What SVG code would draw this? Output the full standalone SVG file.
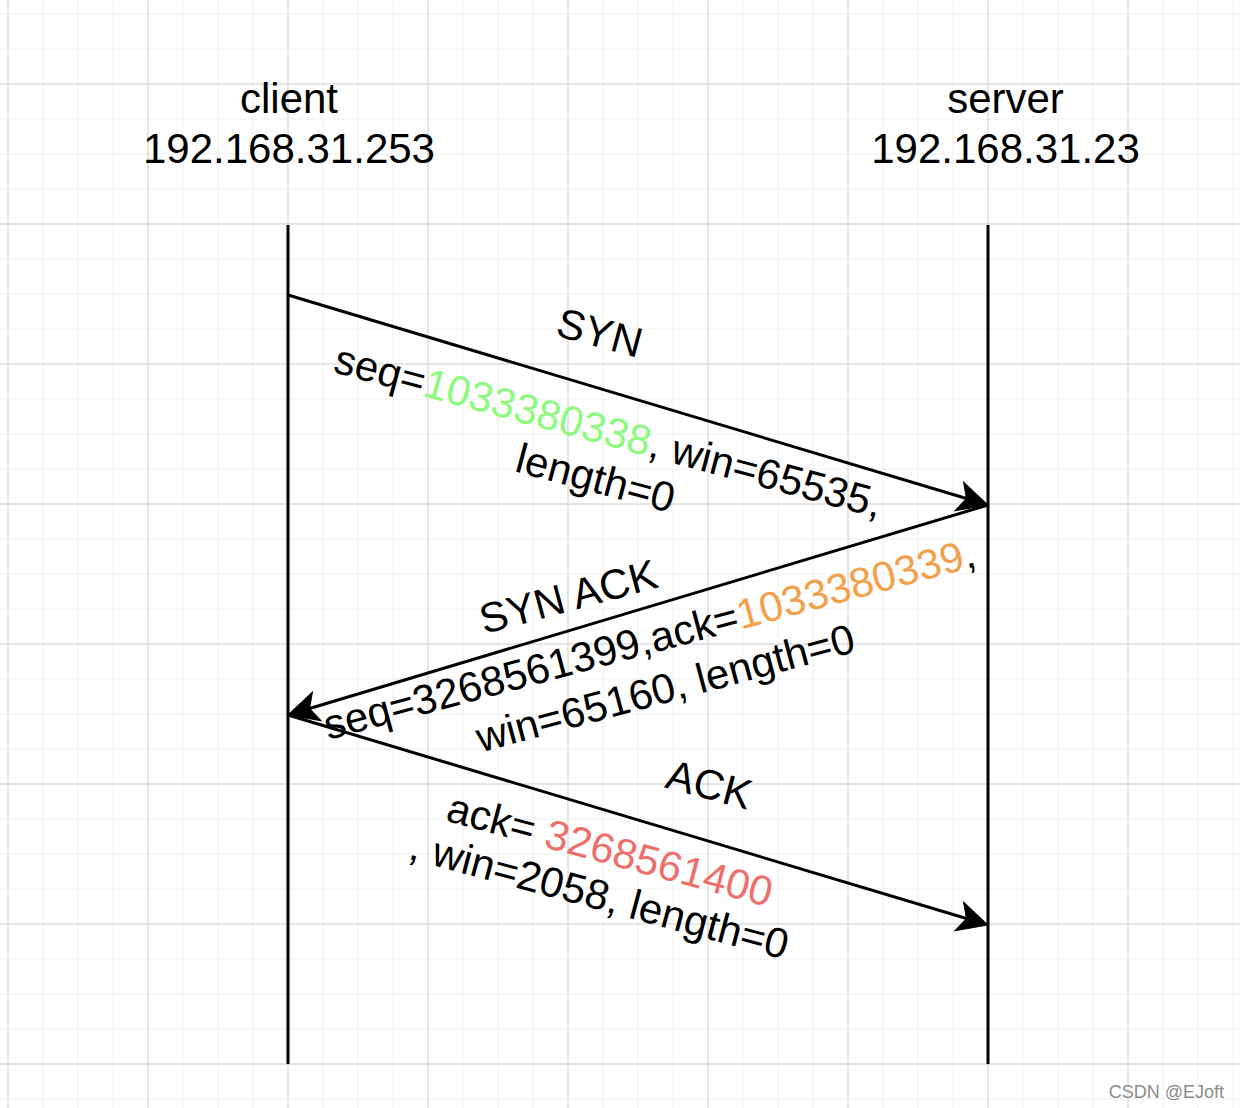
<svg xmlns="http://www.w3.org/2000/svg" width="1240" height="1108" viewBox="0 0 1240 1108">
  <defs>
    <pattern id="gridMinor" patternUnits="userSpaceOnUse" x="7.5" y="13.5" width="35" height="35">
      <path d="M0.5 0 V35 M0 0.5 H35" fill="none" stroke="#efefef" stroke-width="1"/>
    </pattern>
    <pattern id="gridMajor" patternUnits="userSpaceOnUse" x="7.5" y="83.5" width="140" height="140">
      <path d="M0.5 0 V140 M0 0.5 H140" fill="none" stroke="#d3d3d3" stroke-width="1"/>
    </pattern>
    <marker id="arrow" markerUnits="userSpaceOnUse" viewBox="0 0 31 31" markerWidth="31" markerHeight="31" refX="8" refY="15.5" orient="auto" overflow="visible">
      <path d="M30.5 15.5 L0.5 0.5 L8 15.5 L0.5 30.5 Z" fill="#000" stroke="#000" stroke-width="1" stroke-linejoin="miter"/>
    </marker>
    <style>
      .lbl { font-family: "Liberation Sans", Arial, Helvetica, sans-serif; font-size: 42px; fill: #000; }
      .mid { text-anchor: middle; }
      .life { stroke: #000; stroke-width: 3; fill: none; }
      .msg { stroke: #000; stroke-width: 3; fill: none; marker-end: url(#arrow); }
      .green { fill: #8CFA7C; }
      .orange { fill: #F2A04A; }
      .red { fill: #EE6F6A; }
      .wm { font-family: "Liberation Sans", Arial, sans-serif; font-size: 18px; fill: #8c8c8c; }
    </style>
  </defs>

  <rect x="0" y="0" width="1240" height="1108" fill="#ffffff"/>
  <rect x="0" y="0" width="1240" height="1108" fill="url(#gridMinor)"/>
  <rect x="0" y="0" width="1240" height="1108" fill="url(#gridMajor)"/>

  <g id="client">
    <text class="lbl mid" x="289" y="112.5">client</text>
    <text class="lbl mid" x="289" y="163">192.168.31.253</text>
    <line class="life" x1="288" y1="225" x2="288" y2="1064"/>
  </g>

  <g id="server">
    <text class="lbl mid" x="1005.5" y="112.5">server</text>
    <text class="lbl mid" x="1005.5" y="163">192.168.31.23</text>
    <line class="life" x1="988" y1="225" x2="988" y2="1064"/>
  </g>

  <g id="connectors">
    <line id="syn" class="msg" x1="288" y1="295" x2="966.45" y2="498.54"/>
    <line id="synack" class="msg" x1="988" y1="505" x2="309.55" y2="708.54"/>
    <line id="ack" class="msg" x1="288" y1="715" x2="966.45" y2="918.54"/>
  </g>

  <g id="label-syn">
    <text class="lbl mid" transform="translate(596,346.6) rotate(15)">SYN</text>
    <text class="lbl mid" transform="translate(605,445) rotate(15)">seq=<tspan class="green">1033380338</tspan>, win=65535,</text>
    <text class="lbl mid" transform="translate(592,492) rotate(15)">length=0</text>
  </g>

  <g id="label-synack">
    <text class="lbl mid" transform="translate(572,610.6) rotate(-15)">SYN ACK</text>
    <text class="lbl mid" transform="translate(653,653) rotate(-15)">seq=3268561399,ack=<tspan class="orange">1033380339</tspan>,</text>
    <text class="lbl mid" transform="translate(669,702) rotate(-15)">win=65160, length=0</text>
  </g>

  <g id="label-ack">
    <text class="lbl mid" transform="translate(705.5,798.5) rotate(15)">ACK</text>
    <text class="lbl mid" transform="translate(606.3,863.8) rotate(15)">ack= <tspan class="red">3268561400</tspan></text>
    <text class="lbl mid" transform="translate(595.7,909) rotate(15)">, win=2058, length=0</text>
  </g>

  <text class="wm" x="1224" y="1097.5" text-anchor="end">CSDN @EJoft</text>
</svg>
